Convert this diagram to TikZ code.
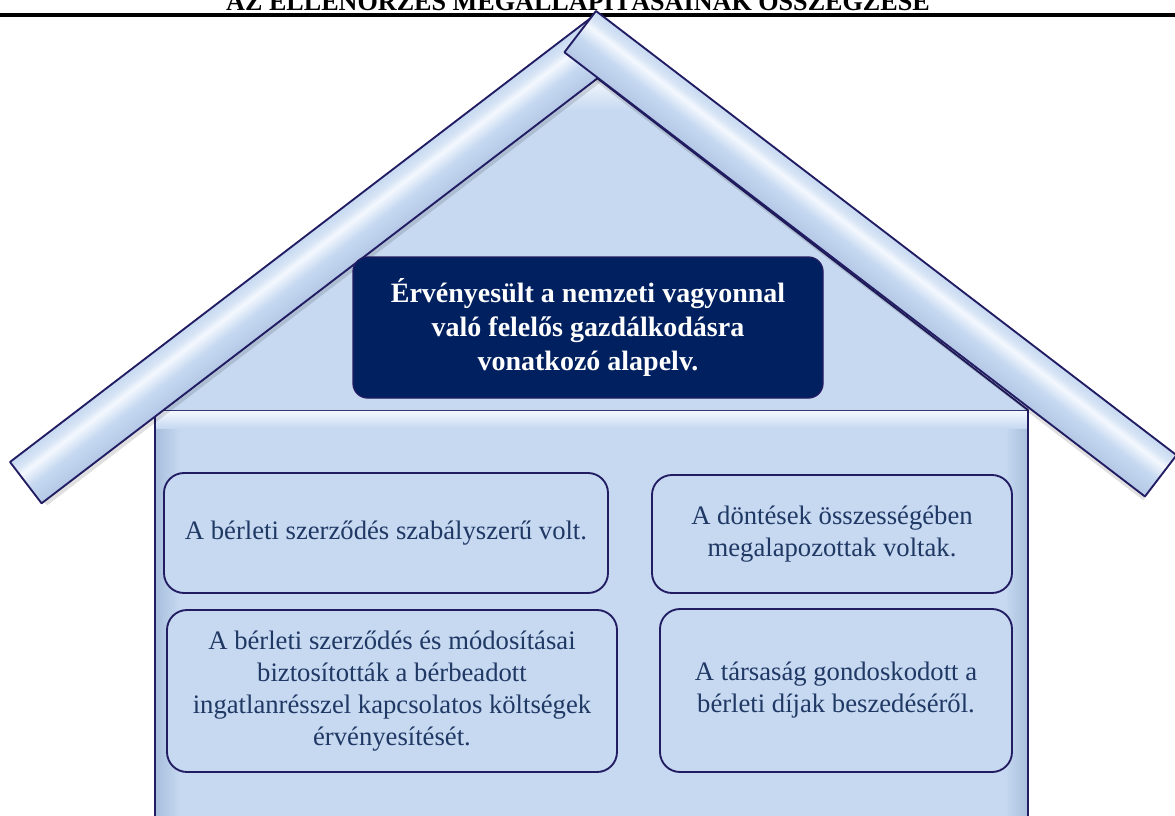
\documentclass[tikz,border=0pt]{standalone}
\usepackage{fontspec}
\setmainfont{Liberation Serif}
\definecolor{housefill}{HTML}{C6D9F1}
\definecolor{houseshade}{HTML}{A9BFDD}
\definecolor{edgeblue}{HTML}{221C62}
\definecolor{darkbox}{HTML}{002060}
\definecolor{textblue}{HTML}{1F3864}
\definecolor{beamlight}{HTML}{F4F8FE}
\definecolor{beamdark}{HTML}{B4C8E6}
\pgfdeclareverticalshading{beamsh}{100bp}{color(0bp)=(beamdark); color(25bp)=(beamdark);
  color(45bp)=(housefill); color(59bp)=(beamlight); color(66bp)=(housefill!70!white);
  color(75bp)=(housefill); color(100bp)=(housefill)}
\begin{document}
\begin{tikzpicture}[x=0.75pt,y=-0.75pt,
  infobox/.style={draw=edgeblue, line width=1.4pt, rounded corners=15pt, fill=housefill,
    text=textblue, font=\fontsize{20}{24}\selectfont, align=center, inner sep=0pt},
  mainbox/.style={draw=edgeblue, line width=1pt, rounded corners=11pt, fill=darkbox,
    text=white, font=\bfseries\fontsize{21}{25.5}\selectfont, align=center, inner sep=0pt},
  outline/.style={draw=edgeblue, line width=1.4pt, line join=round},
  beamshade/.style={shading=beamsh},
  beamshadow/.style={fill=black, opacity=0.12},
]
\useasboundingbox (0,0) rectangle (1175,815);
\clip (0,0) rectangle (1175,815);
\fill[white] (0,0) rectangle (1175,815);

% title (cut off at the top, as in the reference) and rule
\node[anchor=base, font=\bfseries\fontsize{19.6}{22}\selectfont, inner sep=0pt] (title) at (578,10)
  {AZ ELLENŐRZÉS MEGÁLLAPÍTÁSAINAK ÖSSZEGZÉSE};
\draw[line width=2.3pt] (0,15) -- (1175,15);

% house body
\fill[housefill] (155,410) rectangle (1028,830);
\shade[left color=houseshade, right color=housefill] (156,411) rectangle (180,830);
\shade[left color=housefill, right color=houseshade] (1005,411) rectangle (1027,830);
\shade[top color=beamlight, bottom color=housefill] (156,411) rectangle (1027,428);
\draw[outline] (155,830) -- (155,410) -- (1028,410) -- (1028,830);

% gable
\fill[housefill] (163,410) -- (597,78) -- (1028,410) -- cycle;
\shade[top color=beamlight, bottom color=housefill] (597,78) -- (640,111) -- (554,111) -- cycle;
\draw[outline] (163,410) -- (597,78) -- (1028,410);

% left beam
\begin{scope}[transform canvas={shift={(10,462)}, rotate=37.4}]
  \fill[beamshadow] (3,52) rectangle (735,57);
  \shade[beamshade] (0,0) rectangle (735,52);
  \draw[outline] (0,0) rectangle (735,52);
\end{scope}

% right beam
\begin{scope}[transform canvas={shift={(596,11)}, rotate=-37.42}]
  \fill[beamshadow] (40,52) rectangle (732,56);
  \shade[beamshade] (0,0) rectangle (731,52);
  \draw[outline] (0,0) rectangle (731,52);
\end{scope}

% main statement
\node[mainbox, minimum width=470*0.75pt, minimum height=141*0.75pt] (main) at (588,327.5)
  {Érvényesült a nemzeti vagyonnal\\való felelős gazdálkodásra\\vonatkozó alapelv.};

% findings
\node[infobox, minimum width=444*0.75pt, minimum height=120*0.75pt] (f1) at (386,533)
  {A bérleti szerződés szabályszerű volt.};
\node[infobox, minimum width=360*0.75pt, minimum height=118*0.75pt] (f2) at (832,534)
  {A döntések összességében\\megalapozottak voltak.};
\node[infobox, minimum width=450*0.75pt, minimum height=162*0.75pt] (f3) at (392,691)
  {A bérleti szerződés és módosításai\\biztosították a bérbeadott\\ingatlanrésszel kapcsolatos költségek\\érvényesítését.};
\node[infobox, minimum width=352*0.75pt, minimum height=163*0.75pt] (f4) at (836,690.5)
  {A társaság gondoskodott a\\bérleti díjak beszedéséről.};
\end{tikzpicture}
\end{document}
